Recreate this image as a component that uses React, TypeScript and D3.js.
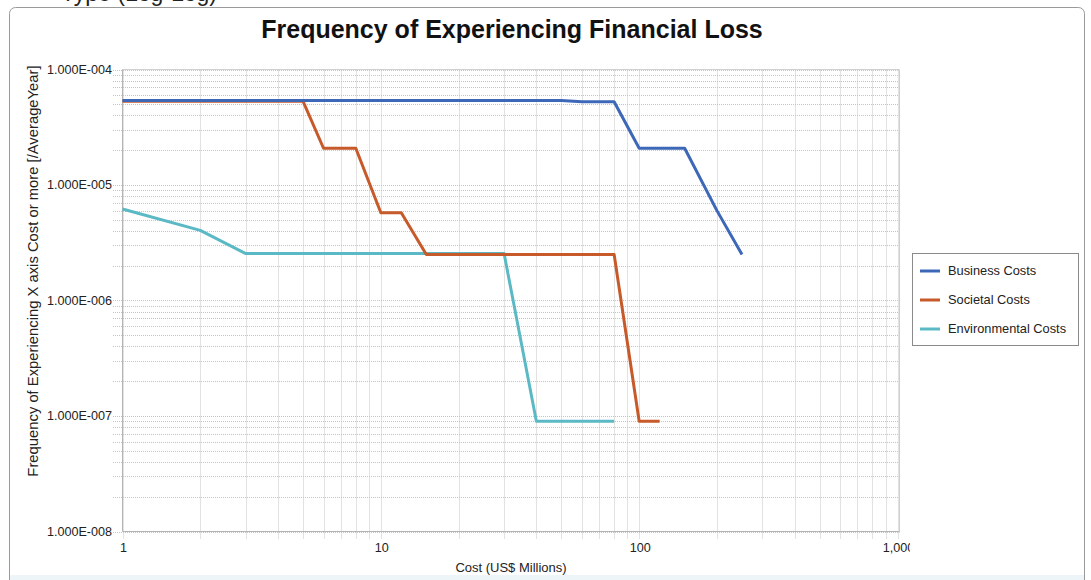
import React from "react";
import * as d3 from "d3";

const seriesNames = ["Business Costs", "Societal Costs", "Environmental Costs"];
const seriesColors = ["#3d68b8", "#c65a2a", "#5bb9c5"];

const businessX = [1, 50, 60, 80, 100, 150, 200, 250];
const businessY = [5.4e-5, 5.4e-5, 5.25e-5, 5.25e-5, 2.08e-5, 2.08e-5, 6.0e-6, 2.5e-6];

const societalX = [1, 5, 6, 8, 10, 12, 15, 80, 100, 120];
const societalY = [5.3e-5, 5.3e-5, 2.08e-5, 2.08e-5, 5.75e-6, 5.75e-6, 2.5e-6, 2.5e-6, 9.0e-8, 9.0e-8];

const environmentalX = [1, 2, 3, 30, 40, 80];
const environmentalY = [6.2e-6, 4.05e-6, 2.55e-6, 2.55e-6, 9.0e-8, 9.0e-8];

const xTickValues = [1, 10, 100, 1000];
const xTickLabels = ["1", "10", "100", "1,000"];
const yTickValues = [1e-4, 1e-5, 1e-6, 1e-7, 1e-8];
const yTickLabels = ["1.000E-004", "1.000E-005", "1.000E-006", "1.000E-007", "1.000E-008"];

const titleText = "Frequency of Experiencing Financial Loss";
const xTitle = "Cost (US$ Millions)";
const yTitle = "Frequency of Experiencing X axis Cost or more [/AverageYear]";

const FONT = "'Liberation Sans', Arial, sans-serif";

export default function App() {
  const left = 122.5, right = 899.5, top = 69.5, bottom = 531.5;
  const x = d3.scaleLog().domain([1, 1000]).range([left, 897.5]);
  const y = d3.scaleLog().domain([1e-8, 1e-4]).range([bottom, top]);

  const xGrid: number[] = [];
  for (let d = 0; d < 3; d++) for (let m = 1; m <= 9; m++) xGrid.push(m * Math.pow(10, d));
  xGrid.push(1000);
  const yGrid: number[] = [];
  for (let d = -8; d < -4; d++) for (let m = 1; m <= 9; m++) yGrid.push(m * Math.pow(10, d));
  yGrid.push(1e-4);

  const line = d3
    .line<[number, number]>()
    .x((p) => x(p[0]))
    .y((p) => y(p[1]));

  const series = [
    { name: seriesNames[0], xs: businessX, ys: businessY, color: seriesColors[0] },
    { name: seriesNames[1], xs: societalX, ys: societalY, color: seriesColors[1] },
    { name: seriesNames[2], xs: environmentalX, ys: environmentalY, color: seriesColors[2] },
  ];
  const drawOrder = [series[2], series[1], series[0]];

  return (
    <svg
      width={1091}
      height={580}
      style={{ position: "absolute", left: 0, top: 0, background: "#fff" }}
      fontFamily={FONT}
    >
      <defs>
        <clipPath id="labelClip">
          <rect x={0} y={0} width={910} height={580} />
        </clipPath>
      </defs>
      <text x={61} y={1} fontSize={23} fill="#222">Type (Log-Log)</text>
      <rect x={9.5} y={7.5} width={1075} height={600} rx={6} ry={6} fill="#fff" stroke="#9a9a9a" />
      <rect x={10} y={575} width={1074} height={5} fill="#eef5f9" />

      <text x={512} y={38} textAnchor="middle" fontSize={25} fontWeight="bold" fill="#111">
        {titleText}
      </text>

      {yGrid.map((v, i) => (
        <line
          key={"yg" + i}
          x1={113}
          x2={right}
          y1={Math.round(y(v)) + 0.5}
          y2={Math.round(y(v)) + 0.5}
          stroke="#c4c4c4"
          strokeDasharray="1 1"
        />
      ))}
      {xGrid.map((v, i) => (
        <line
          key={"xg" + i}
          x1={Math.round(x(v)) + 0.5}
          x2={Math.round(x(v)) + 0.5}
          y1={top}
          y2={539}
          stroke="#c4c4c4"
          strokeDasharray="1 1"
        />
      ))}

      <line x1={left} x2={right} y1={top} y2={top} stroke="#cfcfcf" />
      <line x1={right} x2={right} y1={top} y2={bottom} stroke="#cfcfcf" />
      <line x1={left} x2={left} y1={top} y2={bottom} stroke="#b4b4b4" />
      <line x1={left} x2={right} y1={bottom} y2={bottom} stroke="#b4b4b4" />

      {drawOrder.map((s) => (
        <path
          key={s.name}
          d={line(s.xs.map((xv, i) => [xv, s.ys[i]] as [number, number])) || ""}
          fill="none"
          stroke={s.color}
          strokeWidth={3}
          strokeLinejoin="round"
        />
      ))}

      {yTickValues.map((v, i) => (
        <text key={"yt" + i} x={112} y={y(v)} dy="0.35em" textAnchor="end" fontSize={12.6} fill="#222">
          {yTickLabels[i]}
        </text>
      ))}
      <g clipPath="url(#labelClip)">
        {xTickValues.map((v, i) => (
          <text key={"xt" + i} x={x(v) + 1} y={552} textAnchor="middle" fontSize={12.6} fill="#222">
            {xTickLabels[i]}
          </text>
        ))}
      </g>

      <text x={511} y={572} textAnchor="middle" fontSize={13} fill="#222">
        {xTitle}
      </text>
      <text
        transform={`translate(38,${271}) rotate(-90)`}
        textAnchor="middle"
        fontSize={14.8}
        fill="#222"
      >
        {yTitle}
      </text>

      <rect x={912.5} y={253.5} width={166} height={92} fill="#fff" stroke="#8a8a8a" />
      {series.map((s, i) => (
        <g key={"lg" + i}>
          <line x1={920} x2={940} y1={271 + i * 29} y2={271 + i * 29} stroke={s.color} strokeWidth={3} />
          <text x={948} y={271 + i * 29} dy="0.35em" fontSize={12.8} fill="#222">
            {s.name}
          </text>
        </g>
      ))}
    </svg>
  );
}
